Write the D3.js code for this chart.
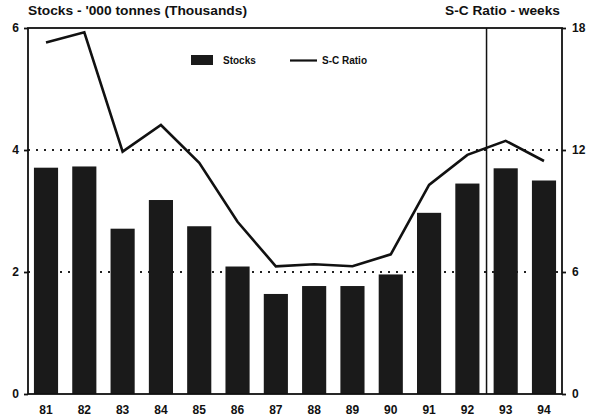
<!DOCTYPE html>
<html><head><meta charset="utf-8">
<script src="https://cdn.jsdelivr.net/npm/d3@7"></script>
<style>body{margin:0;background:#fff}svg{display:block}text{font-family:"Liberation Sans",Arial,sans-serif;fill:#111}</style>
</head><body><svg id="c" width="590" height="419"></svg>
<script>
const years = ["81","82","83","84","85","86","87","88","89","90","91","92","93","94"];
const stocks = [3.71,3.73,2.71,3.18,2.75,2.09,1.64,1.77,1.77,1.96,2.97,3.45,3.70,3.50];
const scRatio = [17.29,17.79,11.92,13.23,11.37,8.47,6.28,6.38,6.28,6.87,10.28,11.76,12.45,11.46];
const leftTicks = [0,2,4,6];
const rightTicks = [0,6,12,18];
const gridTicks = [2,4];
const dividerAfter = "92";

const svg = d3.select("#c");
const L = 28, R = 562, T = 28, B = 394;
const x = d3.scaleBand().domain(years).range([L, R]).paddingInner(0.37).paddingOuter(0.155);
const yL = d3.scaleLinear().domain([0,6]).range([B, T]);
const yR = d3.scaleLinear().domain([0,18]).range([B, T]);

// gridlines (dotted)
svg.append("g").selectAll("line").data(gridTicks).join("line")
  .attr("x1", L).attr("x2", R).attr("y1", d=>yL(d)).attr("y2", d=>yL(d))
  .attr("stroke", "#222").attr("stroke-width", 2).attr("stroke-dasharray", "2,6");

// bars
svg.append("g").selectAll("rect").data(years).join("rect")
  .attr("x", d=>x(d)).attr("width", x.bandwidth())
  .attr("y", (d,i)=>yL(stocks[i])).attr("height", (d,i)=>B - yL(stocks[i]))
  .attr("fill", "#1a1a1a");

// divider
const dIdx = years.indexOf(dividerAfter);
const dx = (x(years[dIdx]) + x.bandwidth() + x(years[dIdx+1]))/2;
svg.append("line").attr("x1", dx).attr("x2", dx).attr("y1", T).attr("y2", B)
  .attr("stroke", "#111").attr("stroke-width", 1.5);

// line
const line = d3.line().x((d,i)=>x(years[i]) + x.bandwidth()/2).y(d=>yR(d));
svg.append("path").datum(scRatio).attr("d", line)
  .attr("fill", "none").attr("stroke", "#111").attr("stroke-width", 2.6).attr("stroke-linejoin", "miter");

// frame
svg.append("rect").attr("x", L).attr("y", T).attr("width", R-L).attr("height", B-T)
  .attr("fill", "none").attr("stroke", "#111").attr("stroke-width", 1.8);

// axes
const axL = svg.append("g").attr("transform", `translate(${L},0)`)
  .call(d3.axisLeft(yL).tickValues(leftTicks).tickSize(4).tickPadding(5).tickFormat(d3.format("d")));
const axR = svg.append("g").attr("transform", `translate(${R},0)`)
  .call(d3.axisRight(yR).tickValues(rightTicks).tickSize(4).tickPadding(6).tickFormat(d3.format("d")));
const axB = svg.append("g").attr("transform", `translate(0,${B})`)
  .call(d3.axisBottom(x).tickSize(0).tickPadding(11));
[axL, axR, axB].forEach(a => {
  a.select(".domain").remove();
  a.selectAll("line").attr("stroke", "#111").attr("stroke-width", 1.8);
  a.selectAll("text").attr("font-size", 12).attr("font-weight", "bold")
    .attr("font-family", "'Liberation Sans',Arial,sans-serif").attr("fill", "#111");
});

// titles
svg.append("text").attr("x", 28).attr("y", 15).attr("font-size", 12).attr("font-weight", "bold")
  .attr("textLength", 219).attr("lengthAdjust", "spacingAndGlyphs")
  .text("Stocks - '000 tonnes (Thousands)");
svg.append("text").attr("x", 445).attr("y", 15).attr("font-size", 12).attr("font-weight", "bold")
  .attr("textLength", 115).attr("lengthAdjust", "spacingAndGlyphs")
  .text("S-C Ratio - weeks");

// legend
const lg = svg.append("g");
lg.append("rect").attr("x", 191).attr("y", 55).attr("width", 22).attr("height", 10).attr("fill", "#1a1a1a");
lg.append("text").attr("x", 223).attr("y", 64).attr("font-size", 10).attr("font-weight", "bold").text("Stocks");
lg.append("line").attr("x1", 290).attr("x2", 317).attr("y1", 60.5).attr("y2", 60.5).attr("stroke", "#111").attr("stroke-width", 2.2);
lg.append("text").attr("x", 322).attr("y", 64).attr("font-size", 10).attr("font-weight", "bold").text("S-C Ratio");
</script></body></html>
